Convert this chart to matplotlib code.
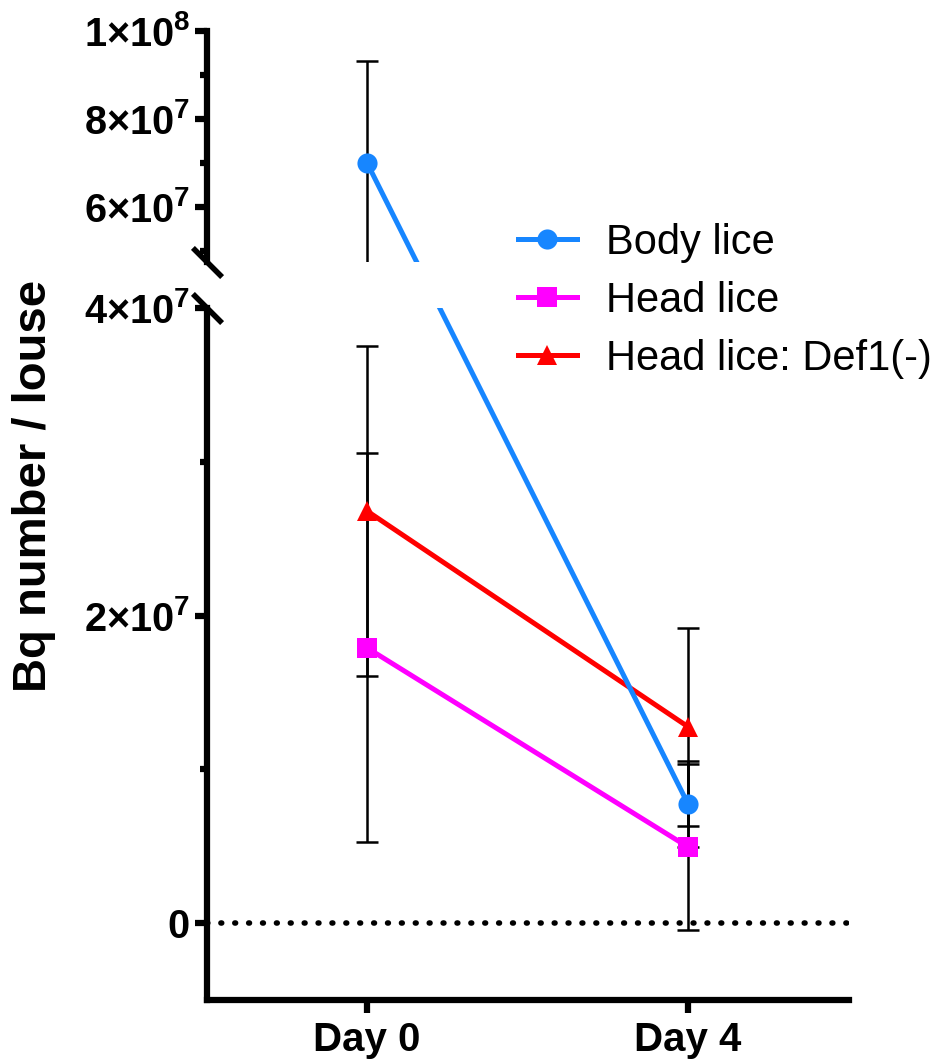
import matplotlib
matplotlib.use("Agg")
import matplotlib.pyplot as plt
from matplotlib.lines import Line2D
from matplotlib.ticker import FixedLocator, FuncFormatter
import numpy as np

plt.rcParams['font.family'] = ['Liberation Sans', 'DejaVu Sans']
plt.rcParams['mathtext.fontset'] = 'custom'
plt.rcParams['mathtext.rm'] = 'Liberation Sans:bold'
plt.rcParams['mathtext.bf'] = 'Liberation Sans:bold'
plt.rcParams['mathtext.it'] = 'Liberation Sans:bold'

# data
days = ['Day 0', 'Day 4']
body_mean = [7.0e7, 7.75e6]
body_sd = [2.32e7, 2.8e6]
head_mean = [1.79e7, 4.95e6]
head_sd = [1.265e7, 5.4e6]
def1_mean = [2.68e7, 1.277e7]
def1_sd = [1.075e7, 6.45e6]

BLUE = '#1786FF'
MAGENTA = '#FF00FF'
RED = '#FF0000'

W, H = 934, 1064
fig = plt.figure(figsize=(W / 100, H / 100), dpi=100)

left = 206.5 / W
width = 642 / W
ax_top = fig.add_axes([left, 1 - 262 / H, width, 231 / H])
ax_bot = fig.add_axes([left, 1 - 1000 / H, width, 692 / H])

x = np.arange(len(days))
series = [
    ('Body lice', body_mean, body_sd, BLUE, 'o'),
    ('Head lice', head_mean, head_sd, MAGENTA, 's'),
    ('Head lice: Def1(-)', def1_mean, def1_sd, RED, '^'),
]

for ax in (ax_top, ax_bot):
    ax.set_xlim(-0.5, 1.5)
    for name, m, sd, col, mk in series:
        ax.errorbar(x, m, yerr=sd, fmt='none', ecolor='black', elinewidth=1.8,
                    capsize=7.9, capthick=1.8, zorder=2)
        if name != 'Body lice':
            ax.plot(x, m, color=col, lw=3.6, zorder=3)
        ax.plot(x, m, linestyle='none', marker=mk, ms=14.5, mew=0, color=col, zorder=4)

ax_top.set_ylim(4.74e7, 1.0e8)
ax_bot.set_ylim(-5e6, 4e7)

# body lice line goes straight across the break on screen
p0 = ax_top.transData.transform((x[0], body_mean[0]))
p1 = ax_bot.transData.transform((x[1], body_mean[1]))
pts = fig.transFigure.inverted().transform([p0, p1])
for ax in (ax_top, ax_bot):
    ax.plot(pts[:, 0], pts[:, 1], color=BLUE, lw=3.6, transform=fig.transFigure, zorder=3)
ax_top.set_xlim(-0.5, 1.5)
ax_bot.set_xlim(-0.5, 1.5)
ax_top.set_ylim(4.74e7, 1.0e8)
ax_bot.set_ylim(-5e6, 4e7)

ax_bot.axhline(0, color='black', lw=4.0, linestyle=(0, (0.15, 2.35)),
               dash_capstyle='round', zorder=1)


def sci_label(v, pos):
    if v == 0:
        return r'$0$'
    e = int(np.floor(np.log10(abs(v)) + 1e-9))
    c = v / 10 ** e
    return r'$%d{\times}10^{%d}$' % (round(c), e)


for ax in (ax_top, ax_bot):
    for s in ('top', 'right'):
        ax.spines[s].set_visible(False)
    ax.spines['left'].set_linewidth(4.5)
    ax.spines['left'].set_capstyle('projecting')
    ax.yaxis.set_major_formatter(FuncFormatter(sci_label))
    ax.tick_params(axis='y', which='major', length=9, width=4.5, pad=3,
                   labelsize=28.5)
    ax.tick_params(axis='y', which='minor', length=5, width=4.5)

ax_top.spines['bottom'].set_visible(False)
ax_top.set_xticks([])
ax_top.yaxis.set_major_locator(FixedLocator([6e7, 8e7, 1e8]))
ax_top.yaxis.set_minor_locator(FixedLocator([5e7, 7e7, 9e7]))

ax_bot.spines['bottom'].set_linewidth(4.5)
ax_bot.spines['bottom'].set_capstyle('projecting')
ax_bot.yaxis.set_major_locator(FixedLocator([0, 2e7, 4e7]))
ax_bot.yaxis.set_minor_locator(FixedLocator([1e7, 3e7]))
ax_bot.set_xticks(x)
ax_bot.set_xticklabels(days, fontweight='bold', fontsize=29)
ax_bot.tick_params(axis='x', length=9, width=4.5, pad=6)

# break marks
brk = dict(marker=[(-1, 1), (1, -1)], markersize=21, linestyle='none',
           color='black', mec='black', mew=4.0, clip_on=False)
ax_top.plot([0], [0], transform=ax_top.transAxes, **brk)
ax_bot.plot([0], [1], transform=ax_bot.transAxes, **brk)

fig.text(34 / W, 1 - 486 / H, 'Bq number / louse', rotation=90, ha='center',
         va='center', fontsize=34, fontweight='bold')

handles = [Line2D([], [], color=col, lw=3.6, marker=mk, ms=14.5, mew=0)
           for name, m, sd, col, mk in series]
fig.legend(handles, [s[0] for s in series], loc='center left',
           bbox_to_anchor=(518 / W, 1 - 301 / H), frameon=False, fontsize=30,
           handlelength=1.41, handletextpad=0.7, labelspacing=0.43,
           borderpad=0, borderaxespad=0)

fig.savefig('out.png', dpi=100)
